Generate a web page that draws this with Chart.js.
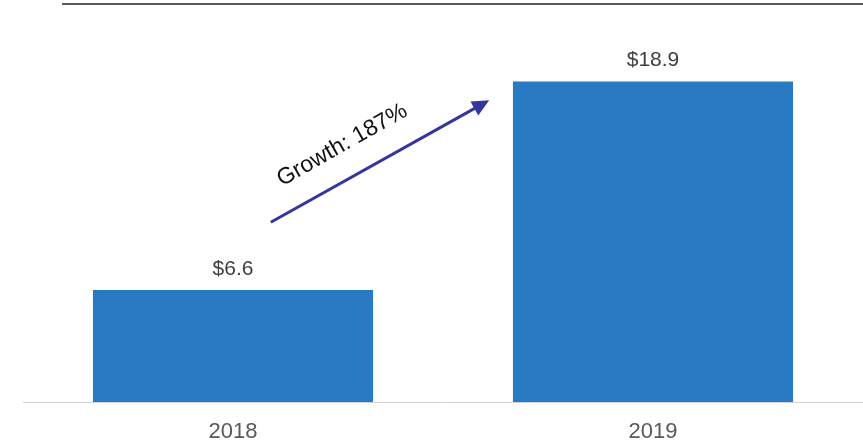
<!DOCTYPE html>
<html lang="en">
<head>
  <meta charset="UTF-8">
  <title>Growth 2018-2019</title>
  <script src="https://cdn.jsdelivr.net/npm/chart.js"></script>
  <style>
    body {
      margin: 0;
      padding: 0;
      background: white;
    }
    #wrap {
      width: 863px;
      height: 442px;
    }
  </style>
</head>
<body>
  <div id="wrap"><canvas id="chartGrowth"></canvas></div>
  <script>
    const years = ['2018', '2019'];
    const values = [6.6, 18.9];
    const valueLabels = ['$6.6', '$18.9'];
    const growthText = 'Growth: 187%';
    // arrow ends in data units (category index, value)
    const arrowFrom = [0.09, 10.6];
    const arrowTo = [0.61, 17.8];
    const textAt = [0.26, 15.15];

    const font = "'Liberation Sans', Arial, sans-serif";

    const extras = {
      id: 'extras',
      beforeDraw(chart) {
        const c = chart.ctx;
        c.save();
        c.strokeStyle = '#5a5a5a';
        c.lineWidth = 2;
        c.beginPath();
        c.moveTo(62, 4);
        c.lineTo(863, 4);
        c.stroke();
        c.restore();
      },
      afterDatasetsDraw(chart) {
        const c = chart.ctx;
        const xs = chart.scales.x, ys = chart.scales.y;
        c.save();
        // value labels
        c.font = '21px ' + font;
        c.fillStyle = '#404040';
        c.textAlign = 'center';
        c.textBaseline = 'middle';
        chart.getDatasetMeta(0).data.forEach((bar, i) => {
          c.fillText(valueLabels[i], bar.x, bar.y - 21);
        });
        // arrow
        const x1 = xs.getPixelForValue(arrowFrom[0]), y1 = ys.getPixelForValue(arrowFrom[1]);
        const x2 = xs.getPixelForValue(arrowTo[0]), y2 = ys.getPixelForValue(arrowTo[1]);
        const ang = Math.atan2(y2 - y1, x2 - x1);
        const head = 17;
        c.strokeStyle = '#3535a0';
        c.fillStyle = '#3535a0';
        c.lineWidth = 3;
        c.beginPath();
        c.moveTo(x1, y1);
        c.lineTo(x2 - head * 0.8 * Math.cos(ang), y2 - head * 0.8 * Math.sin(ang));
        c.stroke();
        c.beginPath();
        c.moveTo(x2, y2);
        c.lineTo(x2 - head * Math.cos(ang) + 8 * Math.sin(ang), y2 - head * Math.sin(ang) - 8 * Math.cos(ang));
        c.lineTo(x2 - head * Math.cos(ang) - 8 * Math.sin(ang), y2 - head * Math.sin(ang) + 8 * Math.cos(ang));
        c.closePath();
        c.fill();
        // growth text
        c.translate(xs.getPixelForValue(textAt[0]), ys.getPixelForValue(textAt[1]));
        c.rotate(-29.5 * Math.PI / 180);
        c.font = '23px ' + font;
        c.fillStyle = '#111';
        c.fillText(growthText, 0, 0);
        c.restore();
      }
    };

    const ctx = document.getElementById('chartGrowth').getContext('2d');
    new Chart(ctx, {
      type: 'bar',
      data: {
        labels: years,
        datasets: [{
          data: values,
          backgroundColor: '#287bc2',
          barPercentage: 0.667,
          categoryPercentage: 1
        }]
      },
      options: {
        responsive: true,
        maintainAspectRatio: false,
        animation: false,
        layout: { padding: { top: 46, left: 23, right: 0, bottom: 0 } },
        plugins: {
          legend: { display: false },
          tooltip: { enabled: false }
        },
        scales: {
          x: {
            grid: { display: false, drawTicks: false },
            border: { display: true, color: '#d4d4d4', width: 1 },
            ticks: { color: '#595959', font: { size: 22, family: font }, padding: 17 },
            afterFit(scale) { scale.height = 40; }
          },
          y: {
            display: false,
            min: 0,
            max: 21
          }
        }
      },
      plugins: [extras]
    });
  </script>
</body>
</html>
